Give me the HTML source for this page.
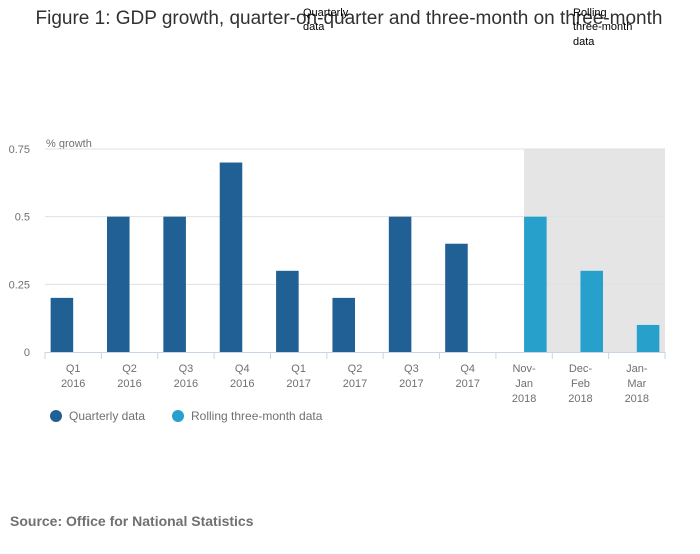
<!DOCTYPE html>
<html><head><meta charset="utf-8"><style>
body{margin:0;background:#fff;font-family:"Liberation Sans",sans-serif;}
svg text{font-family:"Liberation Sans",sans-serif;}
</style></head><body>
<svg width="700" height="549">
<text x="349" y="24" font-size="19" fill="#323132" text-anchor="middle">Figure 1: GDP growth, quarter-on-quarter and three-month on three-month</text>
<text x="303" y="16" font-size="11" fill="#000">Quarterly</text>
<text x="303" y="30" font-size="11" fill="#000">data</text>
<text x="573" y="16" font-size="11" fill="#000">Rolling</text>
<text x="573" y="30" font-size="11" fill="#000">three-month</text>
<text x="573" y="45" font-size="11" fill="#000">data</text>
<text x="46" y="147" font-size="11" fill="#707071">% growth</text>
<g id="plot"></g>
<circle cx="56" cy="416" r="6" fill="#206095"/>
<text x="69" y="420" font-size="12" fill="#707071">Quarterly data</text>
<circle cx="178" cy="416" r="6" fill="#27a0cc"/>
<text x="191" y="420" font-size="12" fill="#707071">Rolling three-month data</text>
<text x="10" y="526" font-size="14" font-weight="bold" fill="#707071">Source: Office for National Statistics</text>
</svg>
<script>
const categories=[["Q1","2016"],["Q2","2016"],["Q3","2016"],["Q4","2016"],["Q1","2017"],["Q2","2017"],["Q3","2017"],["Q4","2017"],["Nov-","Jan","2018"],["Dec-","Feb","2018"],["Jan-","Mar","2018"]];
const quarterly=[0.2,0.5,0.5,0.7,0.3,0.2,0.5,0.4,null,null,null];
const rolling=[null,null,null,null,null,null,null,null,0.5,0.3,0.1];
const yTicks=[0,0.25,0.5,0.75];
const yTickLabels=["0","0.25","0.5","0.75"];
const ns="http://www.w3.org/2000/svg";
const g=document.getElementById('plot');
const X0=45,X1=665,Y0=352,Y1=149,YMAX=0.75;
const bw=(X1-X0)/categories.length;
const y=v=>Y0-(v/YMAX)*(Y0-Y1);
const cx=i=>X0+(i+0.5)*bw;
function el(t,a){const e=document.createElementNS(ns,t);for(const k in a)e.setAttribute(k,a[k]);g.appendChild(e);return e;}
const shade=el('rect',{x:cx(8),y:Y1,width:X1-cx(8),height:Y0-Y1,fill:'#e5e5e5'});


yTicks.forEach((t,i)=>{
 if(t>0){const l=el('line',{x1:X0,x2:X1,y1:y(t),y2:y(t),stroke:'#e0e0e0','stroke-width':1});
 
 }
 const tx=el('text',{x:30,y:y(t)+4,'font-size':11,fill:'#707071','text-anchor':'end'});
 tx.textContent=yTickLabels[i];
 
 
});
const half=bw*0.4;
categories.forEach((c,i)=>{
 if(quarterly[i]!=null){const r=el('rect',{x:cx(i)-half,y:y(quarterly[i]),width:half,height:Y0-y(quarterly[i]),fill:'#206095'});
 
 }
 if(rolling[i]!=null){const r=el('rect',{x:cx(i),y:y(rolling[i]),width:half,height:Y0-y(rolling[i]),fill:'#27a0cc'});
 
 }
 const tk=el('line',{x1:X0+i*bw,x2:X0+i*bw,y1:Y0,y2:Y0+7,stroke:'#c8d4e4'});
 
 
 c.forEach((s,j)=>{const t=el('text',{x:cx(i),y:Y0+20+j*15,'font-size':11,fill:'#707071','text-anchor':'middle'});
 t.textContent=s;
 
 });
});
const tkEnd=el('line',{x1:X1,x2:X1,y1:Y0,y2:Y0+7,stroke:'#c8d4e4'});


const ax=el('line',{x1:X0,x2:X1,y1:Y0+0.5,y2:Y0+0.5,stroke:'#c8d4e4'});


</script>
</body></html>
